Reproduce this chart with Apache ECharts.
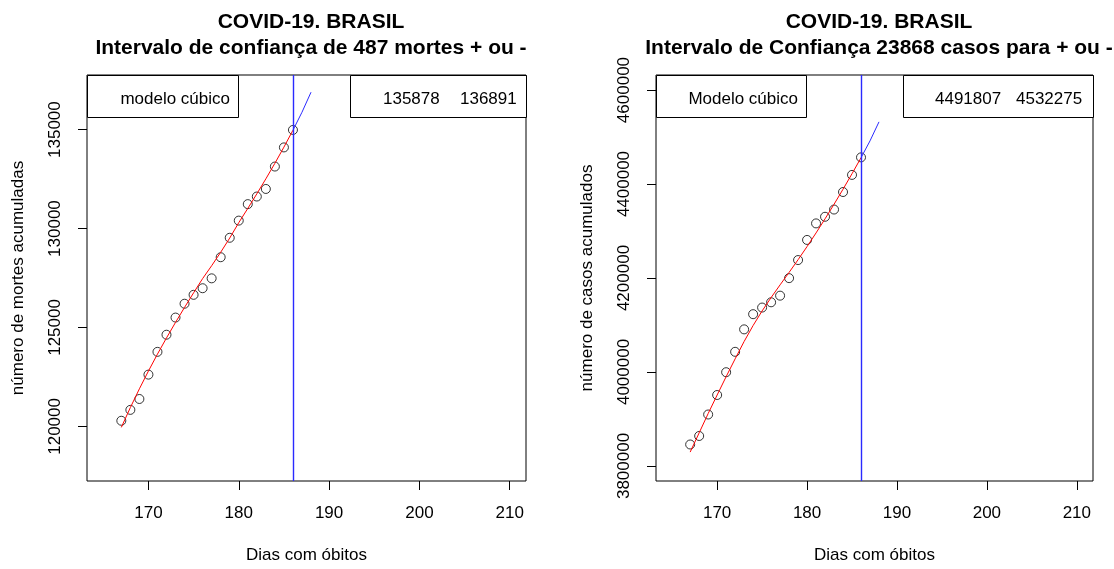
<!DOCTYPE html>
<html>
<head>
<meta charset="utf-8">
<script src="https://cdn.jsdelivr.net/npm/echarts@6/dist/echarts.min.js"></script>
<style>
  html, body { margin: 0; padding: 0; background: #fff; }
  #main { width: 1114px; height: 569px; }
</style>
</head>
<body>
<div id="main"></div>
<script>
// dias com óbitos observados
let dias = [167, 168, 169, 170, 171, 172, 173, 174, 175, 176, 177, 178, 179, 180, 181, 182, 183, 184, 185, 186];
let mortes = [120285, 120835, 121385, 122617, 123767, 124633, 125500, 126200, 126650, 126983,
              127483, 128550, 129533, 130400, 131233, 131617, 132000, 133133, 134100, 134983];
let casos = [3845700, 3863800, 3909500, 3951000, 3999500, 4042900, 4090700, 4123000, 4137100, 4148300,
             4162400, 4199700, 4238200, 4281000, 4316200, 4330300, 4345700, 4383000, 4419400, 4456700];
// curva do modelo cubico
let ajusteMortes = [119950, 120952, 121899, 122798, 123653, 124471, 125256, 126014, 126750, 127470,
                    128120, 128800, 129520, 130296, 131016, 131753, 132511, 133296, 134114, 134969];
let ajusteCasos = [3829500, 3870500, 3911500, 3951000, 3990000, 4027900, 4064900, 4098900, 4129900, 4158400,
                   4185400, 4211900, 4238900, 4266900, 4295900, 4325900, 4356900, 4388900, 4421900, 4455900];
// previsao
let diasPrev = [186, 187, 188];
let prevMortes = [134969, 135878, 136891];
let prevCasos = [4455900, 4491807, 4532275];
let diaCorte = 186;
// ticks
let ticksX = [170, 180, 190, 200, 210];
let ticksMortes = [120000, 125000, 130000, 135000];
let ticksCasos = [3800000, 4000000, 4200000, 4400000, 4600000];

const FONT = "'Liberation Sans', Arial, Helvetica, sans-serif";
const AZUL = '#2a2aff';

function pares(xs, ys) {
    return xs.map((x, i) => [x, ys[i]]);
}

function eixoX(idx) {
    return {
        type: 'value', gridIndex: idx, min: 163.2, max: 211.8,
        name: 'Dias com óbitos', nameLocation: 'middle', nameGap: 66,
        nameTextStyle: { fontSize: 17, color: '#000' },
        splitLine: { show: false },
        axisLine: { show: false },
        axisTick: { show: true, length: 9, customValues: ticksX, lineStyle: { color: '#000' } },
        axisLabel: { customValues: ticksX, fontSize: 17, color: '#000', margin: 24 }
    };
}

function eixoY(idx, nome, min, max, ticks) {
    return {
        type: 'value', gridIndex: idx, min: min, max: max,
        name: nome, nameLocation: 'middle', nameGap: 60,
        nameTextStyle: { fontSize: 17, color: '#000' },
        splitLine: { show: false },
        axisLine: { show: false },
        axisTick: { show: true, length: 9, customValues: ticks, lineStyle: { color: '#000' } },
        axisLabel: { customValues: ticks, fontSize: 17, color: '#000', rotate: 90, margin: 23,
                     formatter: v => String(v) }
    };
}

function serie(idx, pontos, ajuste, prev) {
    return [
        {
            type: 'scatter', xAxisIndex: idx, yAxisIndex: idx,
            data: pares(dias, pontos), symbol: 'circle', symbolSize: 9,
            itemStyle: { color: 'rgba(0,0,0,0)', borderColor: '#000', borderWidth: 1 }
        },
        {
            type: 'line', xAxisIndex: idx, yAxisIndex: idx,
            data: pares(dias, ajuste), showSymbol: false,
            lineStyle: { color: 'red', width: 1 }
        },
        {
            type: 'line', xAxisIndex: idx, yAxisIndex: idx, color: AZUL,
            data: pares(diasPrev, prev), showSymbol: false,
            lineStyle: { color: AZUL, width: 1 },
            markLine: {
                symbol: ['none', 'none'], silent: true, label: { show: false },
                itemStyle: { color: AZUL },
                lineStyle: { color: AZUL, width: 1.4, type: 'solid', opacity: 1 },
                data: [{ xAxis: diaCorte }]
            }
        }
    ];
}

function caixa(x, y, w, h) {
    return { type: 'rect', shape: { x: x + 0.5, y: y + 0.5, width: w, height: h },
             style: { fill: '#fff', stroke: '#000', lineWidth: 1 }, z: 100 };
}
function texto(x, y, t, align) {
    return { type: 'text', x: x, y: y, z: 101,
             style: { text: t, fontSize: 17, fontFamily: FONT, fill: '#000', align: align || 'left', verticalAlign: 'middle' } };
}

let chart = echarts.init(document.getElementById('main'));
let option = {
    animation: false,
    textStyle: { fontFamily: FONT },
    title: [
        {
            text: 'COVID-19. BRASIL\nIntervalo de confiança de 487 mortes + ou -',
            left: 306, top: 4, textAlign: 'center',
            textStyle: { fontSize: 21, fontWeight: 'bold', color: '#000', lineHeight: 26 }
        },
        {
            text: 'COVID-19. BRASIL\nIntervalo de Confiança 23868 casos para + ou -',
            left: 874, top: 4, textAlign: 'center',
            textStyle: { fontSize: 21, fontWeight: 'bold', color: '#000', lineHeight: 26 }
        }
    ],
    grid: [
        { left: 87, top: 75, width: 439, height: 411, show: true, borderColor: '#000', borderWidth: 1 },
        { left: 656, top: 75, width: 437, height: 411, show: true, borderColor: '#000', borderWidth: 1 }
    ],
    xAxis: [eixoX(0), eixoX(1)],
    yAxis: [
        eixoY(0, 'número de mortes acumuladas', 117240, 137760, ticksMortes),
        eixoY(1, 'número de casos acumulados', 3768000, 4632000, ticksCasos)
    ],
    series: serie(0, mortes, ajusteMortes, prevMortes).concat(serie(1, casos, ajusteCasos, prevCasos)),
    graphic: [
        caixa(87, 75, 151, 42),
        texto(230, 99, 'modelo cúbico', 'right'),
        caixa(350, 75, 176, 42),
        texto(383, 99, String(prevMortes[1])),
        texto(460, 99, String(prevMortes[2])),
        caixa(656, 75, 150, 42),
        texto(798, 99, 'Modelo cúbico', 'right'),
        caixa(903, 75, 190, 42),
        texto(935, 99, String(prevCasos[1])),
        texto(1016, 99, String(prevCasos[2]))
    ]
};
chart.setOption(option);
</script>
</body>
</html>
